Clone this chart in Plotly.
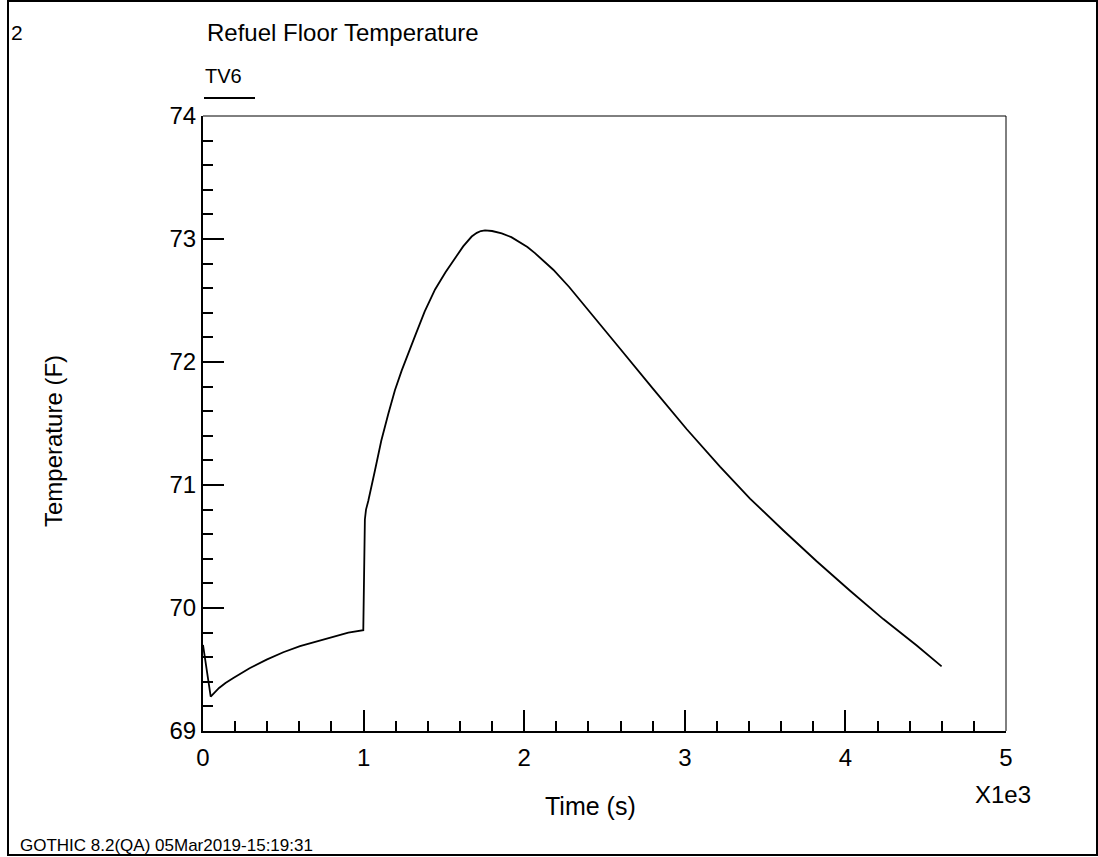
import plotly.graph_objects as go

# ---- data (time in s, temperature in F) ----
time_s = [0, 48, 100, 140, 189, 290, 396, 500, 604, 708, 811, 905, 998, 1003, 1008, 1015,
          1029, 1071, 1110, 1154, 1195, 1237, 1280, 1320, 1380, 1445, 1510, 1569, 1620,
          1673, 1705, 1730, 1756, 1800, 1860, 1920, 1974, 2020, 2067, 2120, 2181, 2280,
          2389, 2596, 2804, 3011, 3219, 3406, 3614, 3821, 4029, 4236, 4444, 4599]
temp_f = [69.70, 69.28, 69.35, 69.39, 69.43, 69.51, 69.58, 69.64, 69.69, 69.73, 69.77,
          69.80, 69.82, 70.55, 70.72, 70.80, 70.87, 71.12, 71.36, 71.58, 71.77, 71.93,
          72.08, 72.21, 72.41, 72.59, 72.73, 72.84, 72.94, 73.02, 73.05, 73.065, 73.07,
          73.065, 73.045, 73.015, 72.975, 72.935, 72.885, 72.825, 72.75, 72.61, 72.44,
          72.11, 71.78, 71.455, 71.15, 70.89, 70.63, 70.38, 70.14, 69.91, 69.695, 69.525]
x_tickvals = [0, 1000, 2000, 3000, 4000, 5000]
x_ticktext = ["0", "1", "2", "3", "4", "5"]
y_tickvals = [69, 70, 71, 72, 73, 74]

W, H = 1098, 857
L, R, T, B = 203, 1006, 116, 731
FONT = "Liberation Sans, Arial, sans-serif"


def px(x):
    return (x - L) / (R - L)


def py(y):
    return (B - y) / (B - T)


fig = go.Figure()
fig.add_trace(go.Scatter(x=time_s, y=temp_f, mode="lines",
                         line=dict(color="black", width=1.8), showlegend=False))

axis_common = dict(showgrid=False, zeroline=False, showline=True, linecolor="black",
                   linewidth=2, ticks="inside", ticklen=21, tickwidth=1.5,
                   tickcolor="black", tickfont=dict(family=FONT, size=24, color="black"))

fig.update_xaxes(range=[0, 5000], tickvals=x_tickvals, ticktext=x_ticktext,
                 ticklabelstandoff=4,
                 minor=dict(dtick=200, ticks="inside", ticklen=10, tickwidth=1.5,
                            tickcolor="black", showgrid=False),
                 **axis_common)
fig.update_yaxes(range=[69, 74], tickvals=y_tickvals,
                 minor=dict(dtick=0.2, ticks="inside", ticklen=10, tickwidth=1.5,
                            tickcolor="black", showgrid=False),
                 **axis_common)

shapes = [
    # outer frame
    dict(type="rect", xref="paper", yref="paper", x0=px(8), x1=px(1097), y0=py(855), y1=py(1),
         line=dict(color="black", width=2)),
    # top and right plot borders
    dict(type="line", xref="paper", yref="paper", x0=0, x1=1, y0=1, y1=1,
         line=dict(color="black", width=1)),
    dict(type="line", xref="paper", yref="paper", x0=1, x1=1, y0=0, y1=1,
         line=dict(color="black", width=1)),
    # legend sample line
    dict(type="line", xref="paper", yref="paper", x0=px(204), x1=px(255), y0=py(98), y1=py(98),
         line=dict(color="black", width=2)),
]

ann = [
    dict(text="2", x=px(9), y=py(33), xanchor="left", yanchor="middle", size=21),
    dict(text="Refuel Floor Temperature", x=px(205), y=py(33), xanchor="left", yanchor="middle", size=24),
    dict(text="TV6", x=px(203), y=py(76), xanchor="left", yanchor="middle", size=20),
    dict(text="Time (s)", x=px(590), y=py(806), xanchor="center", yanchor="middle", size=25),
    dict(text="X1e3", x=px(1003), y=py(794), xanchor="center", yanchor="middle", size=24),
    dict(text="GOTHIC 8.2(QA) 05Mar2019-15:19:31", x=px(18), y=py(845), xanchor="left",
         yanchor="middle", size=17),
]
annotations = []
for a in ann:
    annotations.append(dict(text=a["text"], x=a["x"], y=a["y"], xref="paper", yref="paper",
                            xanchor=a["xanchor"], yanchor=a["yanchor"], showarrow=False,
                            font=dict(family=FONT, size=a["size"], color="black")))
annotations.append(dict(text="Temperature (F)", x=px(53), y=py(441), xref="paper", yref="paper",
                        textangle=-90, xanchor="center", yanchor="middle", showarrow=False,
                        font=dict(family=FONT, size=24, color="black")))

fig.update_layout(width=W, height=H, margin=dict(l=L, r=W - R, t=T, b=H - B),
                  paper_bgcolor="white", plot_bgcolor="white",
                  shapes=shapes, annotations=annotations, showlegend=False)

fig.write_html("out.html")
